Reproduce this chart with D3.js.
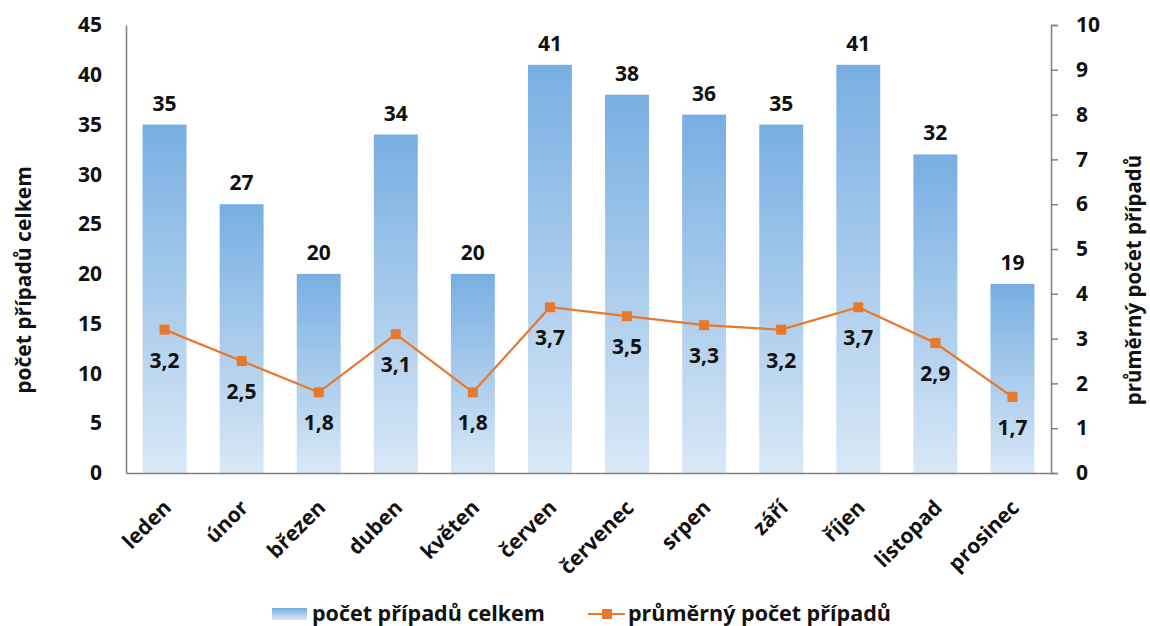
<!DOCTYPE html>
<html>
<head>
<meta charset="utf-8">
<script src="https://cdn.jsdelivr.net/npm/d3@7"></script>
<style>
  body { margin: 0; background: #fff; }
  svg text { font-family: "Open Sans", sans-serif; font-weight: 700; fill: #111; }
</style>
</head>
<body>
<svg id="chart" width="1150" height="626"></svg>
<script>
// Data
const months = ["leden", "únor", "březen", "duben", "květen", "červen",
                "červenec", "srpen", "září", "říjen", "listopad", "prosinec"];
const totalCases = [35, 27, 20, 34, 20, 41, 38, 36, 35, 41, 32, 19];
const avgCases = [3.2, 2.5, 1.8, 3.1, 1.8, 3.7, 3.5, 3.3, 3.2, 3.7, 2.9, 1.7];
const leftTicks = [0, 5, 10, 15, 20, 25, 30, 35, 40, 45];
const rightTicks = [0, 1, 2, 3, 4, 5, 6, 7, 8, 9, 10];
const leftTitle = "počet případů celkem";
const rightTitle = "průměrný počet případů";

const margin = { top: 25, right: 99, bottom: 153, left: 126 };
const W = 1150, H = 626;
const w = W - margin.left - margin.right;
const h = H - margin.top - margin.bottom;

const svg = d3.select("#chart");
const g = svg.append("g").attr("transform", `translate(${margin.left},${margin.top})`);

const x = d3.scaleBand().domain(months).range([0, w]).paddingInner(0.43).paddingOuter(0.215);
const yL = d3.scaleLinear().domain([0, 45]).range([h, 0]);
const yR = d3.scaleLinear().domain([0, 10]).range([h, 0]);

// bar gradient
const defs = svg.append("defs");
const grad = defs.append("linearGradient").attr("id", "barGrad")
  .attr("x1", 0).attr("y1", 0).attr("x2", 0).attr("y2", 1);
grad.append("stop").attr("offset", "0%").attr("stop-color", "#78aee2");
grad.append("stop").attr("offset", "100%").attr("stop-color", "#d9e8f6");

// bars
g.selectAll("rect.bar").data(totalCases).join("rect")
  .attr("class", "bar")
  .attr("x", (d, i) => x(months[i]))
  .attr("y", d => yL(d))
  .attr("width", x.bandwidth())
  .attr("height", d => h - yL(d))
  .attr("fill", "url(#barGrad)");

// bar value labels
g.selectAll("text.barlab").data(totalCases).join("text")
  .attr("class", "barlab")
  .attr("x", (d, i) => x(months[i]) + x.bandwidth() / 2)
  .attr("y", d => yL(d) - 14)
  .attr("text-anchor", "middle")
  .style("font-size", "21px")
  .text(d => d);

// axes
const axisColor = "#808080";
const ax = g.append("g").call(d3.axisLeft(yL).tickValues(leftTicks).tickSize(0).tickPadding(24));
ax.select(".domain").attr("stroke", axisColor).attr("stroke-width", 1.5);
ax.selectAll("text").style("font-size", "21px").style("fill", "#111");

const axr = g.append("g").attr("transform", `translate(${w},0)`)
  .call(d3.axisRight(yR).tickValues(rightTicks).tickSize(7).tickPadding(18));
axr.select(".domain").attr("stroke", axisColor).attr("stroke-width", 1.5);
axr.selectAll("line").attr("stroke", axisColor).attr("stroke-width", 1.5);
axr.selectAll("text").style("font-size", "21px").style("fill", "#111");

const axb = g.append("g").attr("transform", `translate(0,${h})`)
  .call(d3.axisBottom(x).tickSize(0).tickPadding(0));
axb.select(".domain").attr("stroke", axisColor).attr("stroke-width", 1.5);
axb.selectAll("text")
  .style("font-size", "21px").style("fill", "#111")
  .attr("text-anchor", "end")
  .attr("dy", 0)
  .attr("transform", "translate(8,36) rotate(-45)");

// line
const orange = "#e8782c";
const line = d3.line().x((d, i) => x(months[i]) + x.bandwidth() / 2).y(d => yR(d));
g.append("path").datum(avgCases)
  .attr("d", line).attr("fill", "none")
  .attr("stroke", orange).attr("stroke-width", 2.2);
g.selectAll("rect.pt").data(avgCases).join("rect")
  .attr("class", "pt")
  .attr("x", (d, i) => x(months[i]) + x.bandwidth() / 2 - 5)
  .attr("y", d => yR(d) - 5)
  .attr("width", 10).attr("height", 10)
  .attr("fill", orange);
g.selectAll("text.ptlab").data(avgCases).join("text")
  .attr("class", "ptlab")
  .attr("x", (d, i) => x(months[i]) + x.bandwidth() / 2)
  .attr("y", d => yR(d) + 38)
  .attr("text-anchor", "middle")
  .style("font-size", "21px")
  .text(d => String(d).replace(".", ","));

// axis titles
svg.append("text")
  .attr("transform", "translate(31,280) rotate(-90)")
  .attr("text-anchor", "middle")
  .style("font-size", "21px")
  .text(leftTitle);
svg.append("text")
  .attr("transform", "translate(1141,280) rotate(-90)")
  .attr("text-anchor", "middle")
  .style("font-size", "20.5px")
  .text(rightTitle);

// legend
const lg = svg.append("g").attr("transform", "translate(0,614)");
lg.append("rect").attr("x", 272).attr("y", -6).attr("width", 35).attr("height", 12).attr("fill", "url(#barGrad)");
lg.append("text").attr("x", 312).attr("y", 7).style("font-size", "21.5px").text("počet případů celkem");
lg.append("line").attr("x1", 588).attr("x2", 625).attr("y1", 0).attr("y2", 0)
  .attr("stroke", orange).attr("stroke-width", 2.2);
lg.append("rect").attr("x", 602).attr("y", -5).attr("width", 10).attr("height", 10).attr("fill", orange);
lg.append("text").attr("x", 628).attr("y", 7).style("font-size", "21.5px").text("průměrný počet případů");
</script>
</body>
</html>
